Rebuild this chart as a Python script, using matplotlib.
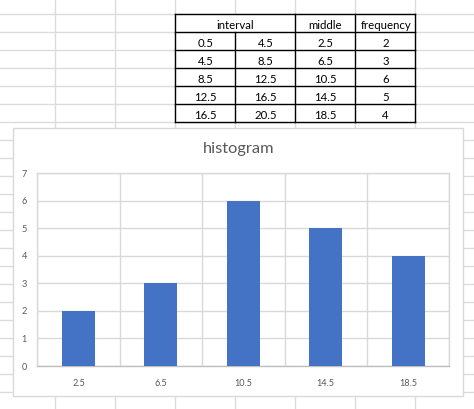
import matplotlib
matplotlib.use("Agg")
import matplotlib.pyplot as plt
from matplotlib.patches import Rectangle
import numpy as np

# ---- data ----
lower = [0.5, 4.5, 8.5, 12.5, 16.5]
upper = [4.5, 8.5, 12.5, 16.5, 20.5]
middle = [2.5, 6.5, 10.5, 14.5, 18.5]
frequency = [2, 3, 6, 5, 4]
headers = ["interval", "middle", "frequency"]
title = "histogram"
yticks = [0, 1, 2, 3, 4, 5, 6, 7]

W, H = 474, 409
plt.rcParams['font.family'] = ['Lato', 'DejaVu Sans']
fig = plt.figure(figsize=(W / 100, H / 100), dpi=100)
fig.patch.set_facecolor("white")

bg = fig.add_axes([0, 0, 1, 1])
bg.set_xlim(0, W)
bg.set_ylim(H, 0)
bg.axis("off")

px = 0.72  # 1 pixel in points
sheet = "#dcdcdc"
# sheet gridlines
for k in range(-1, 23):
    y = 14.3 + 18 * k
    bg.plot([0, W], [y, y], color=sheet, lw=1.4 * px, zorder=1)
for k in range(0, 8):
    x = 55.3 + 60 * k
    bg.plot([x, x], [0, H], color=sheet, lw=1.4 * px, zorder=1)

# table
tl, tr, tt = 175.3, 415.5, 14.3
rh = 18
colx = [175.3, 235.3, 295.3, 355.3, 415.5]
nrows = len(lower) + 1
tb = tt + rh * nrows
bg.add_patch(Rectangle((tl, tt), tr - tl, tb - tt, facecolor="white",
                       edgecolor="none", zorder=2))
for r in range(nrows + 1):
    y = tt + rh * r
    bg.plot([tl, tr], [y, y], color="black", lw=1.4 * px, zorder=3)
for i, x in enumerate(colx):
    y0 = tt + rh if i == 1 else tt
    bg.plot([x, x], [y0, tb], color="black", lw=1.4 * px, zorder=3)

fs_tab = 8.2
hdr_x = [(colx[0] + colx[2]) / 2, (colx[2] + colx[3]) / 2, (colx[3] + colx[4]) / 2 + 0.5]
for hx, h in zip(hdr_x, headers):
    bg.text(hx, tt + rh - 3.3, h, ha="center", va="baseline", fontsize=fs_tab,
            color="black", zorder=4)

def fmt(v):
    return f"{v:g}"

for r in range(len(lower)):
    yb = tt + rh * (r + 2) - 3.6
    vals = [fmt(lower[r]), fmt(upper[r]), fmt(middle[r]), fmt(frequency[r])]
    for c, v in enumerate(vals):
        cx = (colx[c] + colx[c + 1]) / 2
        bg.text(cx, yb, v, ha="center", va="baseline", fontsize=fs_tab,
                color="black", zorder=4)

# chart area
cl, ct, cr, cb = 13.3, 128.0, 463.3, 396.0
bg.add_patch(Rectangle((cl, ct), cr - cl, cb - ct, facecolor="white",
                       edgecolor="#d9d9d9", lw=1.4 * px, zorder=5))
bg.text((cl + cr) / 2 + 0.5, 153.3, title, ha="center", va="baseline",
        fontsize=11.8, color="#595959", zorder=6)

# plot area
pl, pr, pt, pb = 37.3, 449.3, 173.3, 366.0
ax = fig.add_axes([pl / W, 1 - pb / H, (pr - pl) / W, (pb - pt) / H])
ax.set_facecolor("none")
x = np.arange(len(middle))
ax.bar(x, frequency, width=0.4, color="#4472C4", zorder=3)
ax.set_xlim(-0.5, len(middle) - 0.5)
ax.set_ylim(0, 7)
ax.set_yticks(yticks)
ax.set_xticks(x)
ax.set_xticklabels([fmt(m) for m in middle])
ax.set_xticks(np.arange(len(middle) + 1) - 0.5, minor=True)
grid_c = "#d9d9d9"
ax.grid(axis="y", which="major", color=grid_c, lw=1.4 * px, zorder=0)
ax.grid(axis="x", which="minor", color=grid_c, lw=1.4 * px, zorder=0)
ax.tick_params(which="both", length=0)
ax.tick_params(axis="y", pad=7.6, labelsize=6.6, labelcolor="#595959")
ax.tick_params(axis="x", pad=9.5, labelsize=6.6, labelcolor="#595959")
for s in ["left", "top", "right"]:
    ax.spines[s].set_color(grid_c)
    ax.spines[s].set_linewidth(1.4 * px)
ax.spines["bottom"].set_color("#bfbfbf")
ax.spines["bottom"].set_linewidth(1.4 * px)
ax.set_axisbelow(True)

fig.savefig("out.png", dpi=100, facecolor="white")
